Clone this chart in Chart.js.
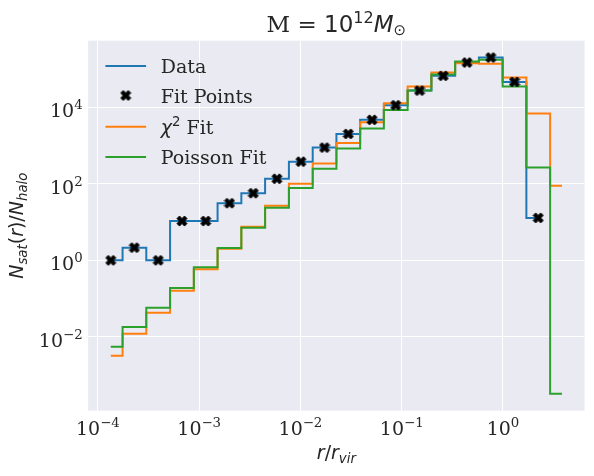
<!DOCTYPE html>
<html>
<head>
<meta charset="utf-8">
<script src="https://cdn.jsdelivr.net/npm/chart.js@4.4.0/dist/chart.umd.min.js"></script>
<style>
  html, body { margin: 0; padding: 0; background: #fff; }
  #wrap { width: 594px; height: 476px; position: relative; }
</style>
</head>
<body>
<div id="wrap"><canvas id="mycanvas"></canvas></div>
<script>
// bin centres in r / r_vir
var radius = [1.34e-4, 2.29e-4, 3.94e-4, 6.76e-4, 1.16e-3, 1.99e-3, 3.42e-3, 5.86e-3,
  1.01e-2, 1.73e-2, 2.97e-2, 5.09e-2, 8.73e-2, 0.150, 0.257, 0.442, 0.758, 1.30, 2.23, 3.83];

// N_sat(r)/N_halo per bin
var data_counts = [1.0, 2.14, 1.0, 10.6, 10.6, 31, 56.5, 135, 378, 879, 2004, 4660,
  11270, 27150, 65800, 146600, 198000, 45800, 12.8, 0];
var chi2_fit = [3.2e-3, 0.012, 0.043, 0.16, 0.58, 2.0, 7.5, 26.5, 100, 336, 1166, 4055,
  12730, 34600, 80400, 141300, 135500, 59400, 6800, 89];
var poisson_fit = [5.5e-3, 0.018, 0.058, 0.19, 0.66, 2.1, 7.1, 23.5, 78, 248, 828, 2760,
  8490, 27150, 71100, 155700, 172500, 34600, 264, 3.25e-4];
var n_fit_points = 19;

var x_tick_exp = [-4, -3, -2, -1, 0];
var y_tick_exp = [-2, 0, 2, 4];

var x_min = 8.0e-5, x_max = 6.40;
var y_min = 1.18e-4, y_max = 5.45e5;

var TEXT = '#262626';
var SERIF = 'DejaVu Serif';
var SANS = 'DejaVu Sans';

function pts(xs, ys) {
  var out = [];
  for (var i = 0; i < ys.length; i++) out.push({x: xs[i], y: ys[i]});
  return out;
}

// filled "X" marker like matplotlib's
function makeXMarker(size) {
  var s = Math.ceil(size + 2);
  var c = document.createElement('canvas');
  c.width = s; c.height = s;
  var g = c.getContext('2d');
  var p = [[-1,-2],[0,-1],[1,-2],[2,-1],[1,0],[2,1],[1,2],[0,1],[-1,2],[-2,1],[-1,0],[-2,-1]];
  g.translate(s / 2, s / 2);
  g.beginPath();
  for (var i = 0; i < p.length; i++) {
    var x = p[i][0] / 4 * size, y = p[i][1] / 4 * size;
    if (i) g.lineTo(x, y); else g.moveTo(x, y);
  }
  g.closePath();
  g.fillStyle = '#000';
  g.fill();
  g.lineWidth = 1;
  g.strokeStyle = '#000';
  g.stroke();
  return c;
}
var xMarker = makeXMarker(10);

// draws a list of text pieces side by side (poor man's mathtext)
function drawRuns(ctx, runs, x, y, align) {
  var w = 0;
  runs.forEach(function(r) { ctx.font = r.font; r.w = ctx.measureText(r.t).width; w += r.w; });
  var cx = align === 'center' ? x - w / 2 : (align === 'right' ? x - w : x);
  runs.forEach(function(r) {
    ctx.font = r.font;
    ctx.fillText(r.t, cx, y + (r.dy || 0));
    cx += r.w;
  });
}

function powerLabel(e) {
  var s = (e < 0 ? '\u2212' : '') + Math.abs(e);
  return [{t: '10', font: '19px "' + SERIF + '"'}, {t: s, font: '13.3px "' + SERIF + '"', dy: -8}];
}

var bgPlugin = {
  id: 'bg',
  beforeDraw: function(chart) {
    var a = chart.chartArea, ctx = chart.ctx;
    ctx.save();
    ctx.fillStyle = '#eaeaf2';
    ctx.fillRect(a.left, a.top, a.right - a.left, a.bottom - a.top);
    ctx.restore();
  }
};

var textPlugin = {
  id: 'texts',
  afterDraw: function(chart) {
    var ctx = chart.ctx, a = chart.chartArea;
    var xs = chart.scales.x, ys = chart.scales.y;
    ctx.save();
    ctx.fillStyle = TEXT;
    ctx.textBaseline = 'alphabetic';

    // tick labels
    x_tick_exp.forEach(function(e) {
      drawRuns(ctx, powerLabel(e), xs.getPixelForValue(Math.pow(10, e)), a.bottom + 24, 'center');
    });
    y_tick_exp.forEach(function(e) {
      drawRuns(ctx, powerLabel(e), a.left - 5.5, ys.getPixelForValue(Math.pow(10, e)) + 10, 'right');
    });

    // title
    var midX = (a.left + a.right) / 2;
    drawRuns(ctx, [
      {t: 'M = ', font: '23px "' + SERIF + '"'},
      {t: '10', font: '23px "' + SANS + '"'},
      {t: '12', font: '16px "' + SANS + '"', dy: -9},
      {t: 'M', font: 'italic 23px "' + SANS + '"'},
      {t: '\u2299', font: '15px "' + SANS + '"', dy: 3}
    ], midX, 32.3, 'center');

    // x label
    var it = 'italic 19px "' + SANS + '"', rm = '19px "' + SANS + '"', sub = 'italic 13.3px "' + SANS + '"';
    drawRuns(ctx, [
      {t: 'r', font: it}, {t: '/', font: rm}, {t: 'r', font: it}, {t: 'vir', font: sub, dy: 4}
    ], midX, 459.3, 'center');

    // y label
    ctx.save();
    ctx.translate(23, (a.top + a.bottom) / 2);
    ctx.rotate(-Math.PI / 2);
    drawRuns(ctx, [
      {t: 'N', font: it}, {t: 'sat', font: sub, dy: 4}, {t: '(', font: rm}, {t: 'r', font: it},
      {t: ')/', font: rm}, {t: 'N', font: it}, {t: 'halo', font: sub, dy: 4}
    ], 0, 0, 'center');
    ctx.restore();

    // legend
    var lx = a.left + 17.3, lw = 40.7, tx = a.left + 72.6;
    var rows = [a.top + 25.3, a.top + 54.8, a.top + 86, a.top + 116.3];
    var lab = '19px "' + SERIF + '"';
    function handle(color, y) {
      ctx.save();
      ctx.strokeStyle = color;
      ctx.lineWidth = 2;
      ctx.beginPath();
      ctx.moveTo(lx, y); ctx.lineTo(lx + lw, y);
      ctx.stroke();
      ctx.restore();
    }
    handle('#1f77b4', rows[0]);
    drawRuns(ctx, [{t: 'Data', font: lab}], tx, rows[0] + 7, 'left');
    ctx.drawImage(xMarker, lx + lw / 2 - xMarker.width / 2, rows[1] - xMarker.height / 2);
    drawRuns(ctx, [{t: 'Fit Points', font: lab}], tx, rows[1] + 7, 'left');
    handle('#ff7f0e', rows[2]);
    drawRuns(ctx, [
      {t: '\u03c7', font: 'italic 19px "' + SANS + '"'},
      {t: '2', font: '13.3px "' + SANS + '"', dy: -8},
      {t: ' Fit', font: lab}
    ], tx, rows[2] + 7, 'left');
    handle('#2ca02c', rows[3]);
    drawRuns(ctx, [{t: 'Poisson Fit', font: lab}], tx, rows[3] + 7, 'left');

    ctx.restore();
  }
};

var chartdata = {
  datasets: [
    {
      label: 'Data',
      data: pts(radius, data_counts),
      borderColor: '#1f77b4',
      backgroundColor: '#1f77b4',
      stepped: 'middle',
      borderWidth: 2,
      pointRadius: 0,
      fill: false,
      order: 3
    },
    {
      label: 'Fit Points',
      data: pts(radius, data_counts.slice(0, n_fit_points)),
      showLine: false,
      pointStyle: xMarker,
      pointRadius: 5,
      order: 0
    },
    {
      label: '\u03c7\u00b2 Fit',
      data: pts(radius, chi2_fit),
      borderColor: '#ff7f0e',
      backgroundColor: '#ff7f0e',
      stepped: 'middle',
      borderWidth: 2,
      pointRadius: 0,
      fill: false,
      order: 2
    },
    {
      label: 'Poisson Fit',
      data: pts(radius, poisson_fit),
      borderColor: '#2ca02c',
      backgroundColor: '#2ca02c',
      stepped: 'middle',
      borderWidth: 2,
      pointRadius: 0,
      fill: false,
      order: 1
    }
  ]
};

var ctx = document.getElementById('mycanvas');

var StepGraph = new Chart(ctx, {
  type: 'line',
  data: chartdata,
  plugins: [bgPlugin, textPlugin],
  options: {
    responsive: true,
    maintainAspectRatio: false,
    animation: false,
    events: [],
    layout: { padding: { top: 40.7, right: 9.4, left: 0, bottom: 0 } },
    scales: {
      x: {
        type: 'logarithmic',
        min: x_min, max: x_max,
        afterBuildTicks: function(scale) {
          scale.ticks = x_tick_exp.map(function(e) { return {value: Math.pow(10, e)}; });
        },
        afterFit: function(scale) { scale.height = 65.3; },
        ticks: { display: false },
        grid: { color: '#ffffff', lineWidth: 1, drawTicks: false },
        border: { display: false }
      },
      y: {
        type: 'logarithmic',
        min: y_min, max: y_max,
        afterBuildTicks: function(scale) {
          scale.ticks = y_tick_exp.map(function(e) { return {value: Math.pow(10, e)}; });
        },
        afterFit: function(scale) { scale.width = 88.1; },
        ticks: { display: false },
        grid: { color: '#ffffff', lineWidth: 1, drawTicks: false },
        border: { display: false }
      }
    },
    plugins: {
      legend: { display: false },
      title: { display: false },
      tooltip: { enabled: false }
    }
  }
});
</script>
</body>
</html>
